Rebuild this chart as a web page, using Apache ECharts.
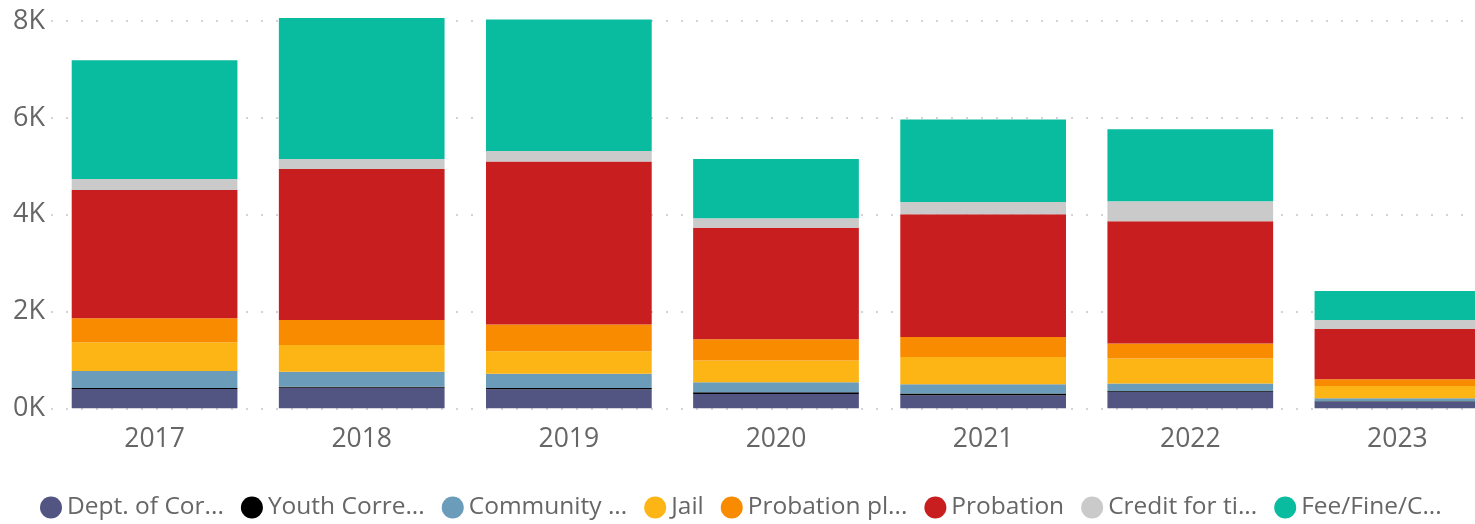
<!DOCTYPE html>
<html>
<head>
<meta charset="utf-8">
<script src="https://cdn.jsdelivr.net/npm/echarts@6/dist/echarts.min.js"></script>
<style>
  html, body { margin: 0; padding: 0; background: #fff; }
  #chart { width: 1475px; height: 524px; }
</style>
</head>
<body>
<div id="chart"></div>
<script>
const categories = ['2017', '2018', '2019', '2020', '2021', '2022', '2023'];
const seriesNames = ['Dept. of Cor...', 'Youth Corre...', 'Community ...', 'Jail', 'Probation pl...', 'Probation', 'Credit for ti...', 'Fee/Fine/C...'];
const deptCorrections = [400, 425, 393, 295, 269, 343, 136];
const youthCorrections = [20, 18, 25, 35, 35, 15, 8];
const community = [351, 310, 298, 207, 192, 153, 62];
const jail = [593, 552, 461, 448, 564, 517, 254];
const probationPlus = [496, 517, 552, 440, 413, 310, 138];
const probation = [2651, 3120, 3368, 2302, 2535, 2527, 1039];
const creditForTime = [227, 207, 219, 198, 254, 413, 186];
const feeFine = [2452, 2913, 2715, 1227, 1702, 1488, 599];
const yTicks = [0, 2000, 4000, 6000, 8000];

const values = [deptCorrections, youthCorrections, community, jail, probationPlus, probation, creditForTime, feeFine];
const colors = ['#525482', '#000000', '#6B9CBA', '#FDB515', '#F88B00', '#C91E1F', '#CACACA', '#0ABC9F'];

const chart = echarts.init(document.getElementById('chart'), null, { renderer: 'canvas' });
const font = '"Open Sans", "Noto Sans", sans-serif';

chart.setOption({
  animation: false,
  color: colors,
  textStyle: { fontFamily: font },
  grid: { left: 51, top: 21, width: 1450, height: 387.3, containLabel: false, outerBoundsMode: 'none' },
  legend: {
    data: seriesNames,
    left: 35,
    top: 490,
    icon: 'circle',
    itemWidth: 22,
    itemHeight: 22,
    itemGap: 17,
    textStyle: { fontSize: 24.5, lineHeight: 24, color: '#666', fontFamily: font }
  },
  xAxis: {
    type: 'category',
    data: categories,
    axisLine: { show: false },
    axisTick: { show: false },
    axisLabel: { fontSize: 26.5, color: '#666', margin: 18, fontFamily: font }
  },
  yAxis: {
    type: 'value',
    min: yTicks[0],
    max: yTicks[yTicks.length - 1],
    interval: 2000,
    axisLine: { show: false },
    axisTick: { show: false },
    axisLabel: {
      fontSize: 27,
      color: '#666',
      margin: 6,
      fontFamily: font,
      formatter: v => (v / 1000) + 'K'
    },
    splitLine: { lineStyle: { type: [2, 13], color: '#d4d4d4', width: 2 } }
  },
  series: seriesNames.map((name, i) => ({
    name: name,
    type: 'bar',
    stack: 'total',
    barWidth: '80%',
    clip: false,
    data: values[i],
    itemStyle: { color: colors[i] }
  }))
});
</script>
</body>
</html>
